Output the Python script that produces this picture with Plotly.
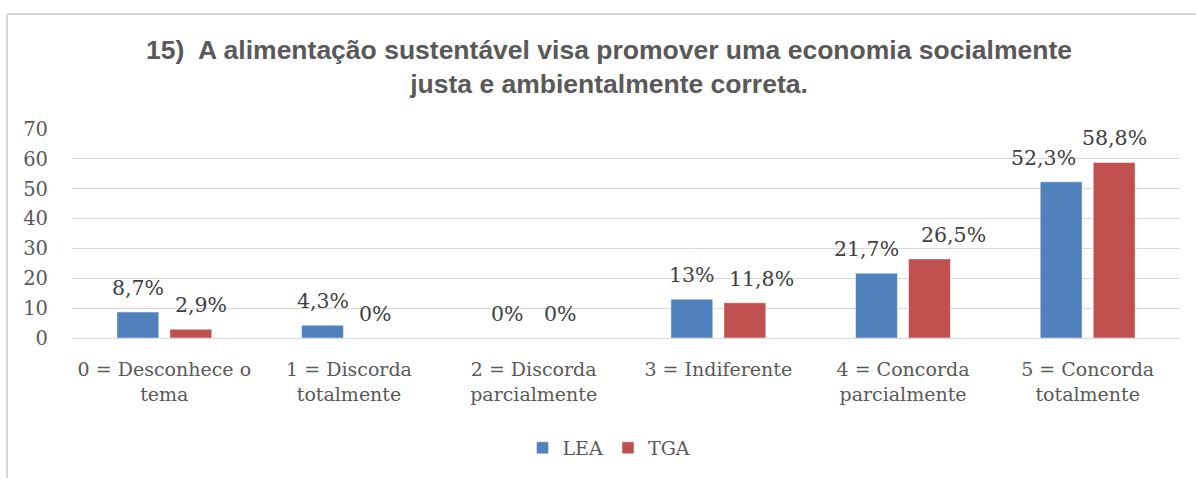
import plotly.graph_objects as go

categories = ["0 = Desconhece o<br>tema", "1 = Discorda<br>totalmente", "2 = Discorda<br>parcialmente",
              "3 = Indiferente", "4 = Concorda<br>parcialmente", "5 = Concorda<br>totalmente"]
lea_values = [8.7, 4.3, 0, 13, 21.7, 52.3]
tga_values = [2.9, 0, 0, 11.8, 26.5, 58.8]
lea_labels = ["8,7%", "4,3%", "0%", "13%", "21,7%", "52,3%"]
tga_labels = ["2,9%", "0%", "0%", "11,8%", "26,5%", "58,8%"]
y_ticks = [0, 10, 20, 30, 40, 50, 60, 70]

# label nudges (px) to mimic spreadsheet label placement
lea_nudge = [0, 0, 0, 0, -10, -18]
tga_nudge = [10, 0, 0, 17, 24, 0]

SERIF = "DejaVu Serif"
W, H = 1196, 478
L, R, T, B = 72, 16, 129, 140
pw, ph = W - L - R, H - T - B
SLOT = 26.5

fig = go.Figure()
series = [("LEA", lea_values, lea_labels, "#4F81BD", -SLOT, lea_nudge),
          ("TGA", tga_values, tga_labels, "#C0504D", SLOT, tga_nudge)]
annotations = []
for name, vals, labels, color, off, nudge in series:
    fig.add_trace(go.Bar(name=name, x=categories, y=vals,
                         marker=dict(color=color, line=dict(color="white", width=0.5))))
    for c, v, t, n in zip(categories, vals, labels, nudge):
        annotations.append(dict(x=c, y=v, text=t, showarrow=False, xref="x", yref="y",
                                xanchor="center", yanchor="bottom", xshift=off + n, yshift=10,
                                font=dict(family=SERIF, size=20.5, color="#404040")))

def px_x(p):
    return (p - L) / pw

def px_y(p):
    return (H - B - p) / ph

fig.update_layout(
    width=W, height=H,
    margin=dict(l=L, r=R, t=T, b=B, autoexpand=False),
    paper_bgcolor="white", plot_bgcolor="white",
    barmode="group", bargap=0.426, bargroupgap=0.21,
    title=dict(text="<b>15)\u00a0 A alimentação sustentável visa promover uma economia socialmente<br>justa e ambientalmente correta.</b>",
               x=609 / W, xanchor="center", y=1 - 59 / H, yanchor="top", yref="container",
               font=dict(family="Liberation Sans", size=26.5, color="#595959")),
    xaxis=dict(tickfont=dict(family=SERIF, size=19, color="#595959"), showline=False,
               showgrid=False, ticks="", automargin=False, ticklabelstandoff=18),
    yaxis=dict(range=[0, 70], tickvals=y_ticks, showgrid=True, gridcolor="#D9D9D9", gridwidth=1,
               zeroline=True, zerolinecolor="#D9D9D9", zerolinewidth=1, automargin=False,
               tickfont=dict(family=SERIF, size=19.5, color="#595959"), ticks="", ticklabelstandoff=23),
    legend=dict(orientation="h", x=px_x(609), xanchor="center",
                y=px_y(448), yanchor="middle", itemwidth=30,
                font=dict(family=SERIF, size=19, color="#595959"),
                traceorder="normal"),
    showlegend=True,
    annotations=annotations,
    shapes=[
        dict(type="line", xref="paper", yref="paper", x0=px_x(7), x1=px_x(W + 5), y0=px_y(14), y1=px_y(14),
             line=dict(color="#D9D9D9", width=2)),
        dict(type="line", xref="paper", yref="paper", x0=px_x(7), x1=px_x(7), y0=px_y(14), y1=px_y(H + 5),
             line=dict(color="#D9D9D9", width=2)),
    ],
)

fig.write_html("out.html", config={"displayModeBar": False},
               post_script="document.body.style.margin='0';document.body.style.overflow='hidden';")
